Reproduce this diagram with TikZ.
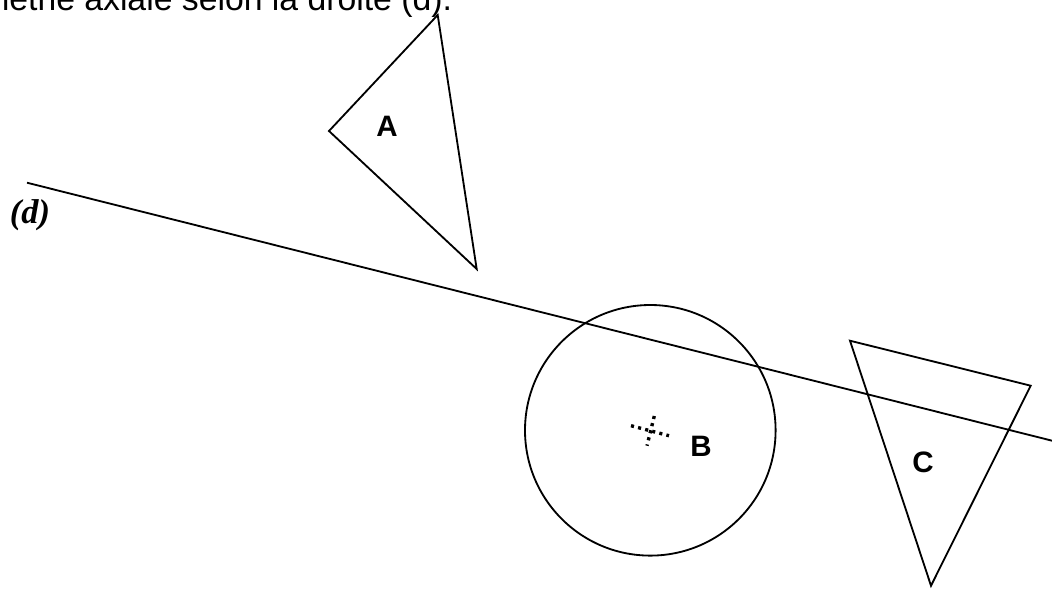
\documentclass[tikz,border=0pt]{standalone}
\usepackage{fontspec}
\setmainfont{Liberation Sans}
\newfontfamily\dfont{Liberation Serif}
\usetikzlibrary{calc}

\tikzset{
  lab/.style={font=\fontsize{21}{25}\selectfont\bfseries,inner sep=0pt},
  dlab/.style={font=\dfont\fontsize{24.5}{29}\selectfont\bfseries\itshape,inner sep=0pt},
  centre/.style={line width=2.4pt,dash pattern=on 2.2pt off 3pt}
}

\begin{document}
\begin{tikzpicture}[x=0.025cm,y=-0.025cm,line width=1.3pt,line join=miter]
\useasboundingbox (0,0) rectangle (1052,588);
% ---------- heading (cut at the top) ----------
\node[anchor=base east,inner sep=0pt,font=\fontsize{24}{29}\selectfont] (titre) at (453,10.5)
  {symétrie axiale selon la droite (d).};
% ---------- axis (d) ----------
\coordinate (d1) at (27,182.7);
\coordinate (d2) at (1060,442.7);
\draw (d1) -- (d2);
\node[dlab] (labd) at (30,215) {(d)};
% ---------- triangle A ----------
\coordinate (A1) at (437.7,15);
\coordinate (A2) at (329,131);
\coordinate (A3) at (476.7,269);
\draw (A1) -- (A2) -- (A3) -- cycle;
\node[lab] (labA) at (387,126) {A};
% ---------- circle B ----------
\coordinate (B) at (650.3,430.3);
\draw (B) circle (125.3);
\draw[centre] (631,425.7) -- (669,435.7);
\draw[centre] (654.3,416) -- (647,445.7);
\node[lab] (labB) at (701,446) {B};
% ---------- triangle C ----------
\coordinate (C1) at (850,340.7);
\coordinate (C2) at (1030.7,385.7);
\coordinate (C3) at (931,585.7);
\draw (C1) -- (C2) -- (C3) -- cycle;
\node[lab] (labC) at (923,462) {C};
\end{tikzpicture}
\end{document}
